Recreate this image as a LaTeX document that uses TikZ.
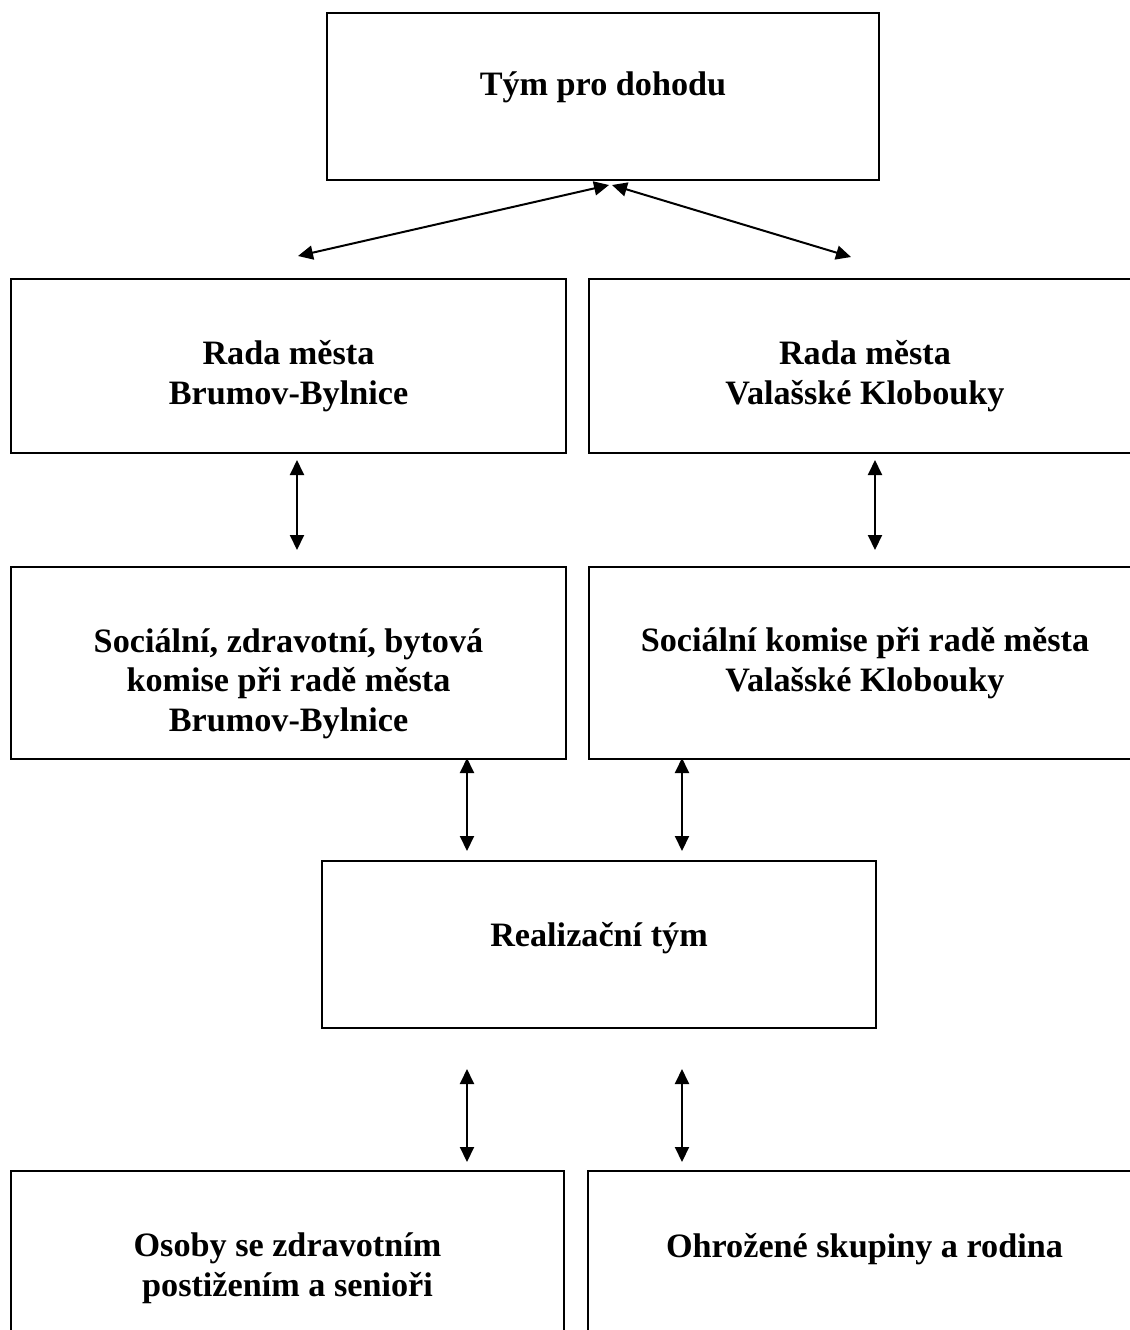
\documentclass[tikz,border=0pt]{standalone}
\usepackage{fontspec}
\setmainfont{Liberation Serif}
\usetikzlibrary{arrows.meta,calc,fit}
\begin{document}
\begin{tikzpicture}[x=0.5pt,y=-0.5pt,
  box/.style={draw,line width=1pt,rectangle,inner sep=0pt},
  lbl/.style={font=\fontsize{17.1}{19.7}\selectfont\bfseries,align=center,inner sep=0pt,anchor=base},
  arr/.style={line width=1pt,{Triangle[length=7.5pt,width=7pt]}-{Triangle[length=7.5pt,width=7pt]}}]
\clip (0,0) rectangle (1130,1330);
% boxes
\node[box,fit={(327,13) (879,180)}] (top) {};
\node[box,fit={(11,279) (566,453)}] (radaB) {};
\node[box,fit={(589,279) (1141,453)}] (radaV) {};
\node[box,fit={(11,567) (566,759)}] (socB) {};
\node[box,fit={(589,567) (1141,759)}] (socV) {};
\node[box,fit={(322,861) (876,1028)}] (real) {};
\node[box,fit={(11,1171) (564,1345)}] (osoby) {};
\node[box,fit={(588,1171) (1141,1345)}] (ohr) {};
% labels (base anchor = baseline of the last line)
\node[lbl] (ttop) at (603,95) {Tým pro dohodu};
\node[lbl] (tradaB) at (288.5,404) {Rada města\\Brumov-Bylnice};
\node[lbl] (tradaV) at (865,404) {Rada města\\Valašské Klobouky};
\node[lbl] (tsocB) at (288.5,731) {Sociální, zdravotní, bytová\\komise při radě města\\Brumov-Bylnice};
\node[lbl] (tsocV) at (865,691) {Sociální komise při radě města\\Valašské Klobouky};
\node[lbl] (treal) at (599,946) {Realizační tým};
\node[lbl] (tosoby) at (287.5,1296) {Osoby se zdravotním\\postižením a senioři};
\node[lbl] (tohr) at (864.5,1257) {Ohrožené skupiny a rodina};
% connectors
\draw[arr] ($(top.south)+(6,4)$) -- ($(radaB.north)+(9.5,-22)$);
\draw[arr] ($(top.south)+(9,4)$) -- ($(radaV.north)+(-14,-21)$);
\draw[arr] ($(radaB.south)+(8.5,6)$) -- ($(socB.north)+(8.5,-16)$);
\draw[arr] ($(radaV.south)+(10,6)$) -- ($(socV.north)+(10,-16)$);
\draw[arr] ($(socB.south)+(178.5,-2)$) -- ($(real.north)+(-132,-9)$);
\draw[arr] ($(socV.south)+(-183,-2)$) -- ($(real.north)+(83,-9)$);
\draw[arr] ($(real.south)+(-132,40)$) -- ($(osoby.north)+(179.5,-8)$);
\draw[arr] ($(real.south)+(83,40)$) -- ($(ohr.north)+(-182.5,-8)$);
\end{tikzpicture}
\end{document}
